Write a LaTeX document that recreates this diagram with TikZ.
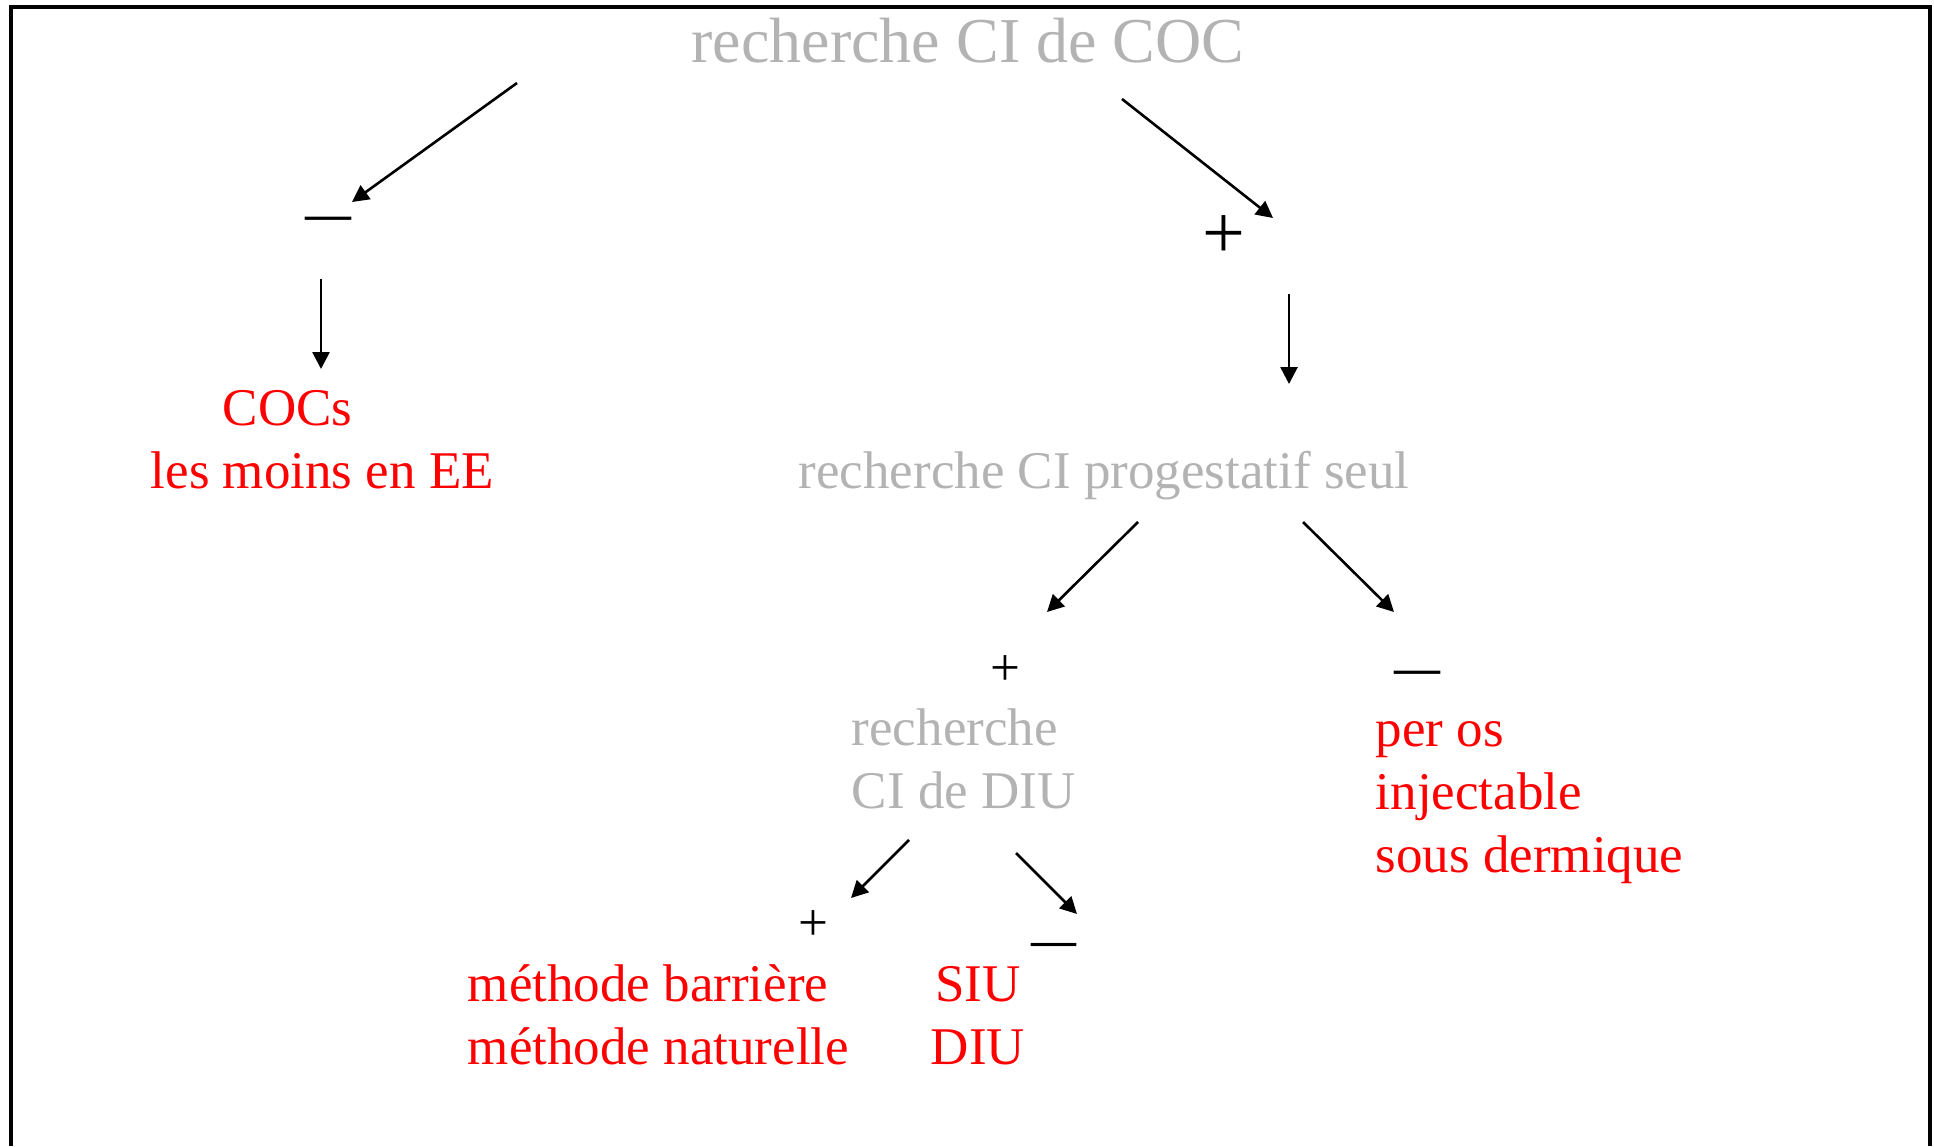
\documentclass[tikz,border=0pt]{standalone}
\usepackage{fontspec}
\setmainfont{Liberation Serif}
\usetikzlibrary{arrows.meta}
\definecolor{querygray}{RGB}{179,179,179}

\begin{document}
\begin{tikzpicture}[
    x=0.25pt, y=-0.25pt,
    >={Triangle[length=4.2pt,width=4.2pt]},
    query/.style={
      text=querygray,
      inner sep=0pt,
      anchor=base,
      font=\fontsize{13.25}{15.75}\selectfont
    },
    answer/.style={
      text=red,
      inner sep=0pt,
      anchor=base west,
      align=left,
      font=\fontsize{13.25}{15.75}\selectfont
    },
    sign/.style={inner sep=0pt, anchor=base},
    flow/.style={->, line width=0.65pt}
  ]
    \useasboundingbox (0,0) rectangle (1934,1146);
    \draw[line width=0.8pt] (11,1146) -- (11,7) -- (1930,7) -- (1930,1146);

    \node[query, font=\fontsize{16}{19}\selectfont] (coc) at (968,62) {recherche CI de COC};
    \node[sign, font=\bfseries\fontsize{11.5}{12}\selectfont] (cocno) at (328,229) {—};
    \node[sign, font=\fontsize{19}{20}\selectfont] (cocyes) at (1224,258) {+};
    \node[answer] (cocs) at (150,488) {\hspace*{18pt}COCs\\les moins en EE};

    \node[query] (prog) at (1104,488) {recherche CI progestatif seul};
    \node[sign, font=\fontsize{13.25}{14}\selectfont] (progyes) at (1005,685) {+};
    \node[sign, font=\bfseries\fontsize{11.5}{12}\selectfont] (progno) at (1417,683) {—};
    \node[query, anchor=base west, align=left] (diu) at (851,808) {recherche\\CI de DIU};
    \node[answer] (routes) at (1375,872) {per os\\injectable\\sous dermique};

    \node[sign, font=\fontsize{13.25}{14}\selectfont] (diuyes) at (813,940) {+};
    \node[sign, font=\bfseries\fontsize{11.25}{12}\selectfont] (diuno) at (1054,955) {—};
    \node[answer] (natural) at (467,1064) {méthode barrière\\méthode naturelle};
    \node[answer, anchor=base, align=center] (iud) at (978,1064) {SIU\\DIU};

    % arrow ends
    \coordinate (coc-l) at (517,83);   \coordinate (cocno-t) at (352,202);
    \coordinate (coc-r) at (1122,99);  \coordinate (cocyes-t) at (1273,218);
    \coordinate (cocno-b) at (321,279); \coordinate (cocs-t) at (321,369);
    \coordinate (cocyes-b) at (1289,294); \coordinate (prog-t) at (1289,384);
    \coordinate (prog-l) at (1138,522); \coordinate (progyes-t) at (1047,612);
    \coordinate (prog-r) at (1303,522); \coordinate (progno-t) at (1394,612);
    \coordinate (diu-l) at (909,840);   \coordinate (diuyes-t) at (851,898);
    \coordinate (diu-r) at (1016,853);  \coordinate (diuno-t) at (1077,914);

    \draw[flow] (coc-l) -- (cocno-t);
    \draw[flow] (coc-r) -- (cocyes-t);
    \draw[flow] (cocno-b) -- (cocs-t);
    \draw[flow] (cocyes-b) -- (prog-t);
    \draw[flow] (prog-l) -- (progyes-t);
    \draw[flow] (prog-r) -- (progno-t);
    \draw[flow] (diu-l) -- (diuyes-t);
    \draw[flow] (diu-r) -- (diuno-t);
  \end{tikzpicture}
\end{document}
